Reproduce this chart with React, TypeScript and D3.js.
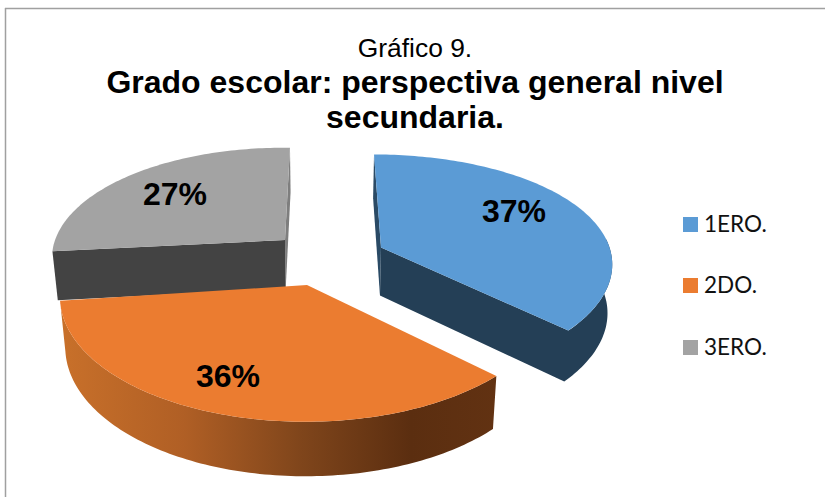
import React from "react";
import * as d3 from "d3";

const categories = ["1ERO.", "2DO.", "3ERO."];
const values = [37, 36, 27];
const topColors = ["#5B9BD5", "#EB7C30", "#A3A3A3"];
const sideColors = ["#243F56", "url(#orangeSide)", "#434343"];
const backColors = ["#2A4A65", "#7a4119", "#7E7E7E"];
const gradientStops: [number, string][] = [
  [0, "#C8702A"],
  [0.28, "#B05F25"],
  [0.55, "#7F451B"],
  [0.8, "#5B2E10"],
  [1, "#623212"],
];
const titleLines = ["Grado escolar: perspectiva general nivel", "secundaria."];
const subtitle = "Gráfico 9.";

// Perspective layout for each exploded slice
const sliceLayout = [
  { ax: 381, ay: 247.5, R: 228.5, S: 108, kx: 0.12, k: 0.161, vx: 316, d: 48, tilt: 0, shrink: 0.984, rimFrom: 85, label: [514, 222] },
  { ax: 307, ay: 285, R: 246, S: 125, kx: 0.086, k: 0.086, vx: 326, d: 50, tilt: 0, shrink: 0.98, rimFrom: 0, label: [228, 387] },
  { ax: 285, ay: 240, R: 229, S: 107, kx: 0.16, k: 0.16, vx: 321, d: 48.5, tilt: 2.5, shrink: 0.98, rimFrom: 999, label: [175, 205] },
];
const legendY = [217, 278, 340];

const toRad = d3.scaleLinear().domain([0, 360]).range([0, 2 * Math.PI]);
const arcs = d3.pie<number>().sort(null).startAngle(0).endAngle(2 * Math.PI)(values);

type L = (typeof sliceLayout)[number];

function topPoint(l: L, theta: number, r = 1): [number, number] {
  const u = r * Math.sin(theta);
  const v = -r * Math.cos(theta);
  return [
    l.vx + (l.ax - l.vx + l.R * u) / (1 - l.kx * v),
    l.ay + (l.S * v) / (1 - l.k * v) + l.tilt * u,
  ];
}
function bottomPoint(l: L, theta: number, r = 1): [number, number] {
  const [x, y] = topPoint(l, theta, r);
  const v = -r * Math.cos(theta);
  return [l.vx + (x - l.vx) * l.shrink, y + l.d * (1 + 0.09 * v)];
}
const line = d3.line();
const closed = (pts: [number, number][]) => (line(pts) as string) + "Z";
const sweep = (a: number, b: number) => {
  const n = Math.max(2, Math.ceil(Math.abs(b - a) / 0.02));
  return d3.range(n + 1).map((i) => a + ((b - a) * i) / n);
};

export default function App() {
  return (
    <svg
      width={825}
      height={497}
      viewBox="0 0 825 497"
      style={{ position: "absolute", left: 0, top: 0, background: "#fff" }}
    >
      <defs>
        <linearGradient id="orangeSide" gradientUnits="userSpaceOnUse" x1={62} y1={0} x2={498} y2={0}>
          {gradientStops.map(([o, c]) => (
            <stop key={o} offset={o} stopColor={c} />
          ))}
        </linearGradient>
      </defs>
      <path d="M5 8.5H825M5.5 8V497" fill="none" stroke="#A0A0A0" strokeWidth={1.5} />

      <g fontFamily="Liberation Sans" textAnchor="middle" fill="#000">
        <text x={415} y={57} fontSize={26.4}>{subtitle}</text>
        {titleLines.map((t, i) => (
          <text key={t} x={415} y={92.5 + i * 35} fontSize={32} fontWeight="bold">{t}</text>
        ))}
      </g>

      {[2, 0, 1].map((i) => {
        const a = arcs[i];
        const l = sliceLayout[i];
        const topArc = sweep(a.startAngle, a.endAngle).map((t) => topPoint(l, t));
        const face = closed([topPoint(l, 0, 0), ...topArc]);
        const apexTop = topPoint(l, 0, 0);
        const apexBot = bottomPoint(l, 0, 0);
        const startWall = closed([
          topPoint(l, a.startAngle),
          apexTop,
          apexBot,
          bottomPoint(l, a.startAngle),
        ]);
        const endWall = closed([
          topPoint(l, a.endAngle),
          apexTop,
          apexBot,
          bottomPoint(l, a.endAngle),
        ]);
        const rimStart = Math.max(a.startAngle, toRad(l.rimFrom));
        const rimAngles = rimStart < a.endAngle ? sweep(rimStart, a.endAngle) : [];
        // Rim of the blue slice runs on into its cut wall as one outline, with no seam
        const blueBody = closed([
          apexTop,
          ...rimAngles.slice().reverse().map((t) => topPoint(l, t)),
          ...rimAngles.map((t) => bottomPoint(l, t)),
          apexBot,
        ]);
        const rim = rimAngles.length
          ? closed([
              ...rimAngles.map((t) => topPoint(l, t)),
              ...rimAngles.slice().reverse().map((t) => bottomPoint(l, t)),
            ])
          : null;
        return (
          <g key={categories[i]}>
            {i === 0 && <path d={startWall} fill={backColors[i]} />}
            {i === 2 && <path d={endWall} fill={backColors[i]} />}
            {i === 0 && <path d={blueBody} fill={sideColors[i]} />}
            {i === 2 && <path d={startWall} fill={sideColors[i]} />}
            {i === 1 && rim && <path d={rim} fill={sideColors[i]} />}
            <path d={face} fill={topColors[i]} />
          </g>
        );
      })}

      <g fontFamily="Liberation Sans" fontWeight="bold" fontSize={32} textAnchor="middle" fill="#000">
        {values.map((v, i) => (
          <text key={i} x={sliceLayout[i].label[0]} y={sliceLayout[i].label[1]}>{`${v}%`}</text>
        ))}
      </g>

      {categories.map((c, i) => (
        <g key={c}>
          <rect x={683} y={legendY[i]} width={15} height={15} fill={topColors[i]} />
          <text x={704} y={legendY[i] + 15.3} fontFamily="Lato" fontSize={22.5} fill="#111">{c}</text>
        </g>
      ))}
    </svg>
  );
}
